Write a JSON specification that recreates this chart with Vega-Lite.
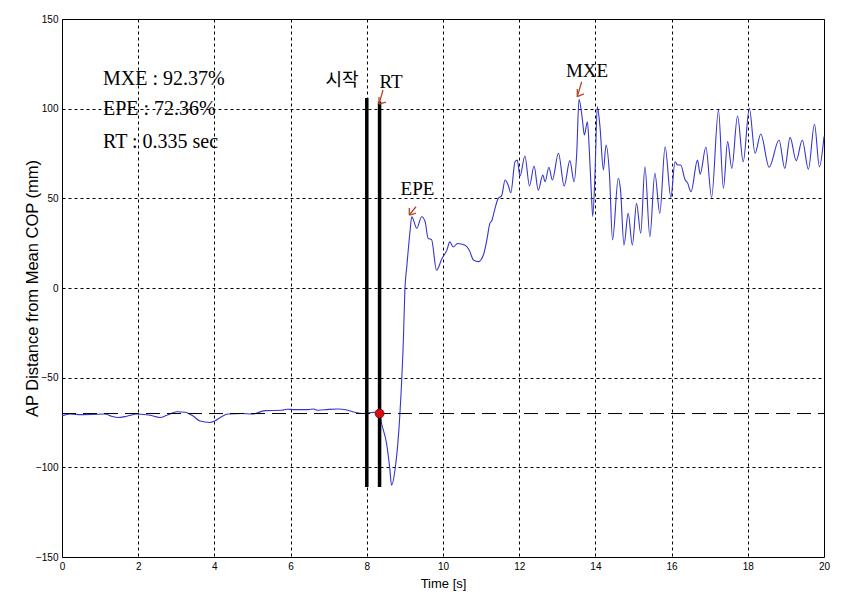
{
  "$schema": "https://vega.github.io/schema/vega-lite/v6.json",
  "width": 762,
  "height": 538,
  "autosize": "none",
  "padding": {"left": 62, "top": 19, "right": 19, "bottom": 51},
  "background": "white",
  "config": {
    "view": {"stroke": "black", "strokeWidth": 1},
    "axis": {
      "grid": true,
      "gridColor": "black",
      "gridDash": [3, 3],
      "gridOpacity": 1,
      "gridWidth": 1,
      "domain": false,
      "ticks": false,
      "labelFont": "Liberation Sans",
      "labelFontSize": 10,
      "labelColor": "black",
      "titleFont": "Liberation Sans",
      "titleFontWeight": "normal",
      "titleColor": "black",
      "titleFontSize": 13
    }
  },
  "datasets": {
    "signal": [
      {"t": 0.0, "y": -71.3}, {"t": 0.21, "y": -70.3}, {"t": 0.5, "y": -70.6}, {"t": 0.81, "y": -70.5},
      {"t": 1.13, "y": -70.3}, {"t": 1.3, "y": -71.5}, {"t": 1.47, "y": -72.2}, {"t": 1.7, "y": -71.5},
      {"t": 1.97, "y": -70.3}, {"t": 2.15, "y": -70.5}, {"t": 2.31, "y": -71}, {"t": 2.57, "y": -72.2},
      {"t": 2.75, "y": -71}, {"t": 3.02, "y": -69}, {"t": 3.23, "y": -69.3}, {"t": 3.44, "y": -71.4},
      {"t": 3.62, "y": -74.2}, {"t": 3.88, "y": -75}, {"t": 4.02, "y": -74}, {"t": 4.2, "y": -71.6},
      {"t": 4.36, "y": -70.3}, {"t": 4.72, "y": -70}, {"t": 4.99, "y": -70.3}, {"t": 5.33, "y": -68.4},
      {"t": 5.77, "y": -68.2}, {"t": 5.9, "y": -67.6}, {"t": 6.12, "y": -67.8}, {"t": 6.46, "y": -67.8},
      {"t": 6.6, "y": -67.5}, {"t": 6.72, "y": -68.2}, {"t": 7.0, "y": -67.7}, {"t": 7.24, "y": -67.5},
      {"t": 7.48, "y": -68}, {"t": 7.69, "y": -69.3}, {"t": 7.9, "y": -70}, {"t": 8.1, "y": -69.5},
      {"t": 8.25, "y": -69.2}, {"t": 8.335, "y": -70}, {"t": 8.39, "y": -75.7}, {"t": 8.52, "y": -86.9},
      {"t": 8.6, "y": -100}, {"t": 8.65, "y": -109.9}, {"t": 8.74, "y": -101.5}, {"t": 8.87, "y": -69.9},
      {"t": 8.96, "y": -29}, {"t": 9.0, "y": -1}, {"t": 9.05, "y": 12}, {"t": 9.13, "y": 30.5},
      {"t": 9.18, "y": 39.7}, {"t": 9.21, "y": 38.8}, {"t": 9.31, "y": 33.3}, {"t": 9.44, "y": 39.7},
      {"t": 9.53, "y": 37}, {"t": 9.61, "y": 27.7}, {"t": 9.7, "y": 27}, {"t": 9.83, "y": 9.9},
      {"t": 9.97, "y": 16.3}, {"t": 10.1, "y": 21}, {"t": 10.18, "y": 25.7}, {"t": 10.27, "y": 22.9},
      {"t": 10.38, "y": 24.8}, {"t": 10.58, "y": 23.8}, {"t": 10.69, "y": 21}, {"t": 10.8, "y": 15.6},
      {"t": 10.93, "y": 14.7}, {"t": 11.06, "y": 18.4}, {"t": 11.15, "y": 26.7}, {"t": 11.23, "y": 36},
      {"t": 11.28, "y": 37.5}, {"t": 11.36, "y": 44}, {"t": 11.45, "y": 50}, {"t": 11.54, "y": 51.5},
      {"t": 11.63, "y": 60.2}, {"t": 11.71, "y": 57.4}, {"t": 11.78, "y": 53.1}, {"t": 11.89, "y": 70.4},
      {"t": 11.95, "y": 71.3}, {"t": 12.02, "y": 62.4}, {"t": 12.15, "y": 73.6}, {"t": 12.27, "y": 56.9},
      {"t": 12.39, "y": 68}, {"t": 12.5, "y": 54.6}, {"t": 12.62, "y": 63}, {"t": 12.68, "y": 59.3},
      {"t": 12.78, "y": 67.3}, {"t": 12.87, "y": 60.2}, {"t": 13.03, "y": 75.1}, {"t": 13.18, "y": 56.9},
      {"t": 13.33, "y": 71}, {"t": 13.44, "y": 59.3}, {"t": 13.51, "y": 75.1}, {"t": 13.57, "y": 105.2},
      {"t": 13.66, "y": 93.7}, {"t": 13.71, "y": 85.3}, {"t": 13.79, "y": 92.7}, {"t": 13.84, "y": 77},
      {"t": 13.9, "y": 50}, {"t": 13.93, "y": 39.9}, {"t": 13.99, "y": 64}, {"t": 14.05, "y": 101.2},
      {"t": 14.12, "y": 90}, {"t": 14.21, "y": 65.8}, {"t": 14.28, "y": 79.7}, {"t": 14.37, "y": 63},
      {"t": 14.45, "y": 26.8}, {"t": 14.6, "y": 61.2}, {"t": 14.66, "y": 54.6}, {"t": 14.75, "y": 23.9},
      {"t": 14.86, "y": 41.6}, {"t": 14.97, "y": 23.9}, {"t": 15.08, "y": 47.2}, {"t": 15.19, "y": 30.5},
      {"t": 15.3, "y": 67.6}, {"t": 15.43, "y": 28.6}, {"t": 15.56, "y": 64}, {"t": 15.69, "y": 41.6},
      {"t": 15.83, "y": 78.8}, {"t": 15.98, "y": 50.5}, {"t": 16.09, "y": 70.4}, {"t": 16.16, "y": 68.6},
      {"t": 16.24, "y": 68.6}, {"t": 16.35, "y": 60.6}, {"t": 16.42, "y": 58.5}, {"t": 16.51, "y": 53.7},
      {"t": 16.68, "y": 71.3}, {"t": 16.75, "y": 63.5}, {"t": 16.9, "y": 78.6}, {"t": 17.05, "y": 50.5},
      {"t": 17.23, "y": 99.2}, {"t": 17.36, "y": 55.6}, {"t": 17.47, "y": 81.6}, {"t": 17.58, "y": 66.7},
      {"t": 17.73, "y": 95.9}, {"t": 17.88, "y": 70.4}, {"t": 18.04, "y": 100.2}, {"t": 18.19, "y": 75.1},
      {"t": 18.34, "y": 85.9}, {"t": 18.56, "y": 67.3}, {"t": 18.82, "y": 82.5}, {"t": 18.97, "y": 66.7},
      {"t": 19.11, "y": 84}, {"t": 19.27, "y": 71}, {"t": 19.43, "y": 82.5}, {"t": 19.59, "y": 66.2},
      {"t": 19.75, "y": 91.3}, {"t": 19.88, "y": 67.6}, {"t": 20.0, "y": 84.4}
    ],
    "baseline": [{"t1": 0, "t2": 20, "y": -70}],
    "bars": [
      {"t": 8.0, "y1": -111, "y2": 106},
      {"t": 8.335, "y1": -111, "y2": 104}
    ],
    "dot": [{"t": 8.335, "y": -70}],
    "arrows": [
      {"t1": 8.425, "y1": 110.4, "t2": 8.32, "y2": 102.6},
      {"t1": 8.32, "y1": 102.6, "t2": 8.32, "y2": 106.5},
      {"t1": 8.32, "y1": 102.6, "t2": 8.504, "y2": 103.7},
      {"t1": 9.291, "y1": 45.3, "t2": 9.116, "y2": 40.7},
      {"t1": 9.116, "y1": 40.7, "t2": 9.116, "y2": 44.6},
      {"t1": 9.116, "y1": 40.7, "t2": 9.291, "y2": 41.8},
      {"t1": 13.64, "y1": 115.0, "t2": 13.525, "y2": 106.7},
      {"t1": 13.525, "y1": 106.7, "t2": 13.525, "y2": 111.0},
      {"t1": 13.525, "y1": 106.7, "t2": 13.701, "y2": 108.2}
    ],
    "stats": [
      {"t": 1.076, "y": 113.2, "label": "MXE : 92.37%"},
      {"t": 1.076, "y": 96.5, "label": "EPE : 72.36%"},
      {"t": 1.076, "y": 78.1, "label": "RT : 0.335 sec"}
    ],
    "marks": [
      {"t": 8.635, "y": 111.5, "label": "RT"},
      {"t": 9.33, "y": 51.8, "label": "EPE"},
      {"t": 13.78, "y": 117.7, "label": "MXE"}
    ],
    "korean": [{"t": 7.35, "y": 115.4, "label": "시작"}]
  },
  "layer": [
    {
      "data": {"name": "signal"},
      "mark": {"type": "line", "color": "#3535d0", "strokeWidth": 1.1, "interpolate": "monotone"},
      "encoding": {
        "x": {
          "field": "t", "type": "quantitative",
          "scale": {"domain": [0, 20], "nice": false, "zero": false},
          "axis": {"values": [0, 2, 4, 6, 8, 10, 12, 14, 16, 18, 20], "title": "Time [s]", "labelFlush": false, "labelPadding": 4, "titlePadding": 6}
        },
        "y": {
          "field": "y", "type": "quantitative",
          "scale": {"domain": [-150, 150], "nice": false, "zero": false},
          "axis": {"values": [-150, -100, -50, 0, 50, 100, 150], "title": "AP Distance from Mean COP (mm)", "labelPadding": 4, "titleX": -30, "titleY": 269, "titleAngle": 270, "titleAlign": "center", "titleBaseline": "middle", "titleFontSize": 16.5}
        }
      }
    },
    {
      "data": {"name": "baseline"},
      "mark": {"type": "rule", "color": "black", "strokeWidth": 1, "strokeDash": [14, 7]},
      "encoding": {
        "x": {"field": "t1", "type": "quantitative"},
        "x2": {"field": "t2"},
        "y": {"field": "y", "type": "quantitative"}
      }
    },
    {
      "data": {"name": "bars"},
      "mark": {"type": "rule", "color": "black", "strokeWidth": 3.5},
      "encoding": {
        "x": {"field": "t", "type": "quantitative"},
        "y": {"field": "y1", "type": "quantitative"},
        "y2": {"field": "y2"}
      }
    },
    {
      "data": {"name": "dot"},
      "mark": {"type": "point", "filled": true, "color": "#d01010", "size": 80, "opacity": 1, "stroke": "#8a0000", "strokeWidth": 0.8},
      "encoding": {
        "x": {"field": "t", "type": "quantitative"},
        "y": {"field": "y", "type": "quantitative"}
      }
    },
    {
      "data": {"name": "arrows"},
      "mark": {"type": "rule", "color": "#b04a2a", "strokeWidth": 1.3},
      "encoding": {
        "x": {"field": "t1", "type": "quantitative"},
        "y": {"field": "y1", "type": "quantitative"},
        "x2": {"field": "t2"},
        "y2": {"field": "y2"}
      }
    },
    {
      "data": {"name": "stats"},
      "mark": {"type": "text", "font": "Liberation Serif", "fontSize": 20, "align": "left", "baseline": "alphabetic", "color": "black"},
      "encoding": {
        "x": {"field": "t", "type": "quantitative"},
        "y": {"field": "y", "type": "quantitative"},
        "text": {"field": "label"}
      }
    },
    {
      "data": {"name": "marks"},
      "mark": {"type": "text", "font": "Liberation Serif", "fontSize": 19, "align": "center", "baseline": "alphabetic", "color": "black"},
      "encoding": {
        "x": {"field": "t", "type": "quantitative"},
        "y": {"field": "y", "type": "quantitative"},
        "text": {"field": "label"}
      }
    },
    {
      "data": {"name": "korean"},
      "mark": {"type": "text", "font": "Noto Sans CJK KR", "fontSize": 18, "align": "center", "baseline": "middle", "color": "black"},
      "encoding": {
        "x": {"field": "t", "type": "quantitative"},
        "y": {"field": "y", "type": "quantitative"},
        "text": {"field": "label"}
      }
    }
  ]
}
